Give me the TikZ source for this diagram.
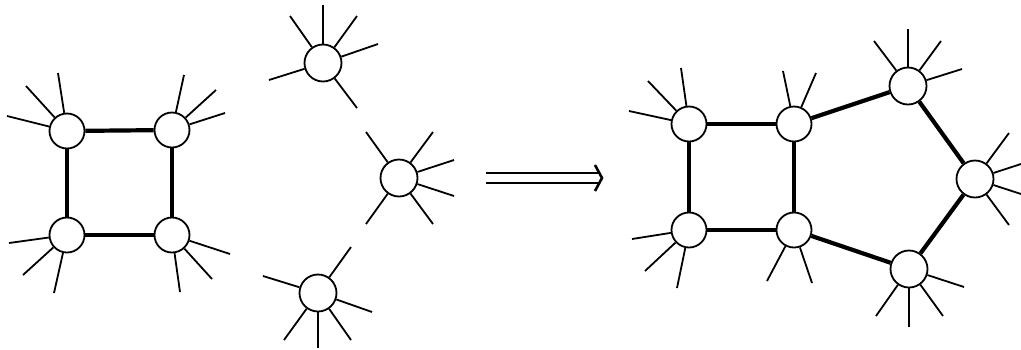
\documentclass[tikz,border=0pt]{standalone}
\usetikzlibrary{arrows.meta,calc}
\tikzset{
  vtx/.style={circle, draw, fill=white, line width=1.8pt, minimum size=35pt, inner sep=0pt},
  vtxb/.style={vtx, minimum size=37pt},
  spike/.style={line width=1.8pt},
  bond/.style={line width=4.2pt},
  arrowline/.style={line width=2.1pt},
}
\newcommand{\spikesof}[2]{%
  \foreach \px/\py [count=\i] in {#2} {%
    \coordinate (#1-s\i) at (\px,\py);
    \draw[spike] (#1) -- (#1-s\i);
  }%
}
\begin{document}
\begin{tikzpicture}[x=1pt,y=-1pt]
\useasboundingbox (0,0) rectangle (1021,349);
% left square
\node[vtx] (a) at (67,131) {};
\node[vtx] (b) at (172,130) {};
\node[vtx] (c) at (67,235) {};
\node[vtx] (d) at (172,235) {};
\draw[bond] (a) -- (b);
\draw[bond] (b) -- (d);
\draw[bond] (d) -- (c);
\draw[bond] (c) -- (a);
\spikesof{a}{58/73, 26/86, 7/116}
\spikesof{b}{184/75, 216/90, 225/113}
\spikesof{c}{9/243, 23/275, 54/293}
\spikesof{d}{230/254, 212/279, 180/292}
% middle free vertices
\node[vtxb] (m1) at (323,63) {};
\node[vtxb] (m2) at (399,178) {};
\node[vtxb] (m3) at (318,293) {};
\spikesof{m1}{323/5, 290/16, 357/16, 378/44, 269/80, 357/108}
\spikesof{m2}{366/132, 433/132, 454/160, 454/196, 366/224, 433/224}
\spikesof{m3}{263/276, 351/247, 372/312, 284/340, 318/348, 351/340}
% arrow
\coordinate (ar1) at (486,178);
\coordinate (ar2) at (602,178);
\draw[arrowline, double distance=8pt] (ar1) -- ($(ar2)+(-3,0)$);
\draw[line width=2.6pt, line join=miter] ($(ar2)+(-7,-13)$) -- (ar2) -- ($(ar2)+(-7,13)$);
% right figure
\node[vtx] (p) at (689,124) {};
\node[vtx] (q) at (794,124) {};
\node[vtx] (r) at (689,230) {};
\node[vtx] (s) at (794,230) {};
\node[vtxb] (t) at (908,86) {};
\node[vtxb] (u) at (975,179) {};
\node[vtxb] (v) at (909,269) {};
\draw[bond] (p) -- (q);
\draw[bond] (q) -- (s);
\draw[bond] (s) -- (r);
\draw[bond] (r) -- (p);
\draw[bond] (q) -- (t);
\draw[bond] (t) -- (u);
\draw[bond] (u) -- (v);
\draw[bond] (v) -- (s);
\spikesof{p}{681/68, 648/81, 629/111}
\spikesof{q}{783/71, 816/73}
\spikesof{r}{632/239, 645/271, 677/288}
\spikesof{s}{767/281, 812/283}
\spikesof{t}{908/29, 874/41, 941/41, 962/69}
\spikesof{u}{1009/133, 1021/164, 1021/194, 1009/225}
\spikesof{v}{964/287, 876/316, 909/327, 943/316}
\end{tikzpicture}
\end{document}
